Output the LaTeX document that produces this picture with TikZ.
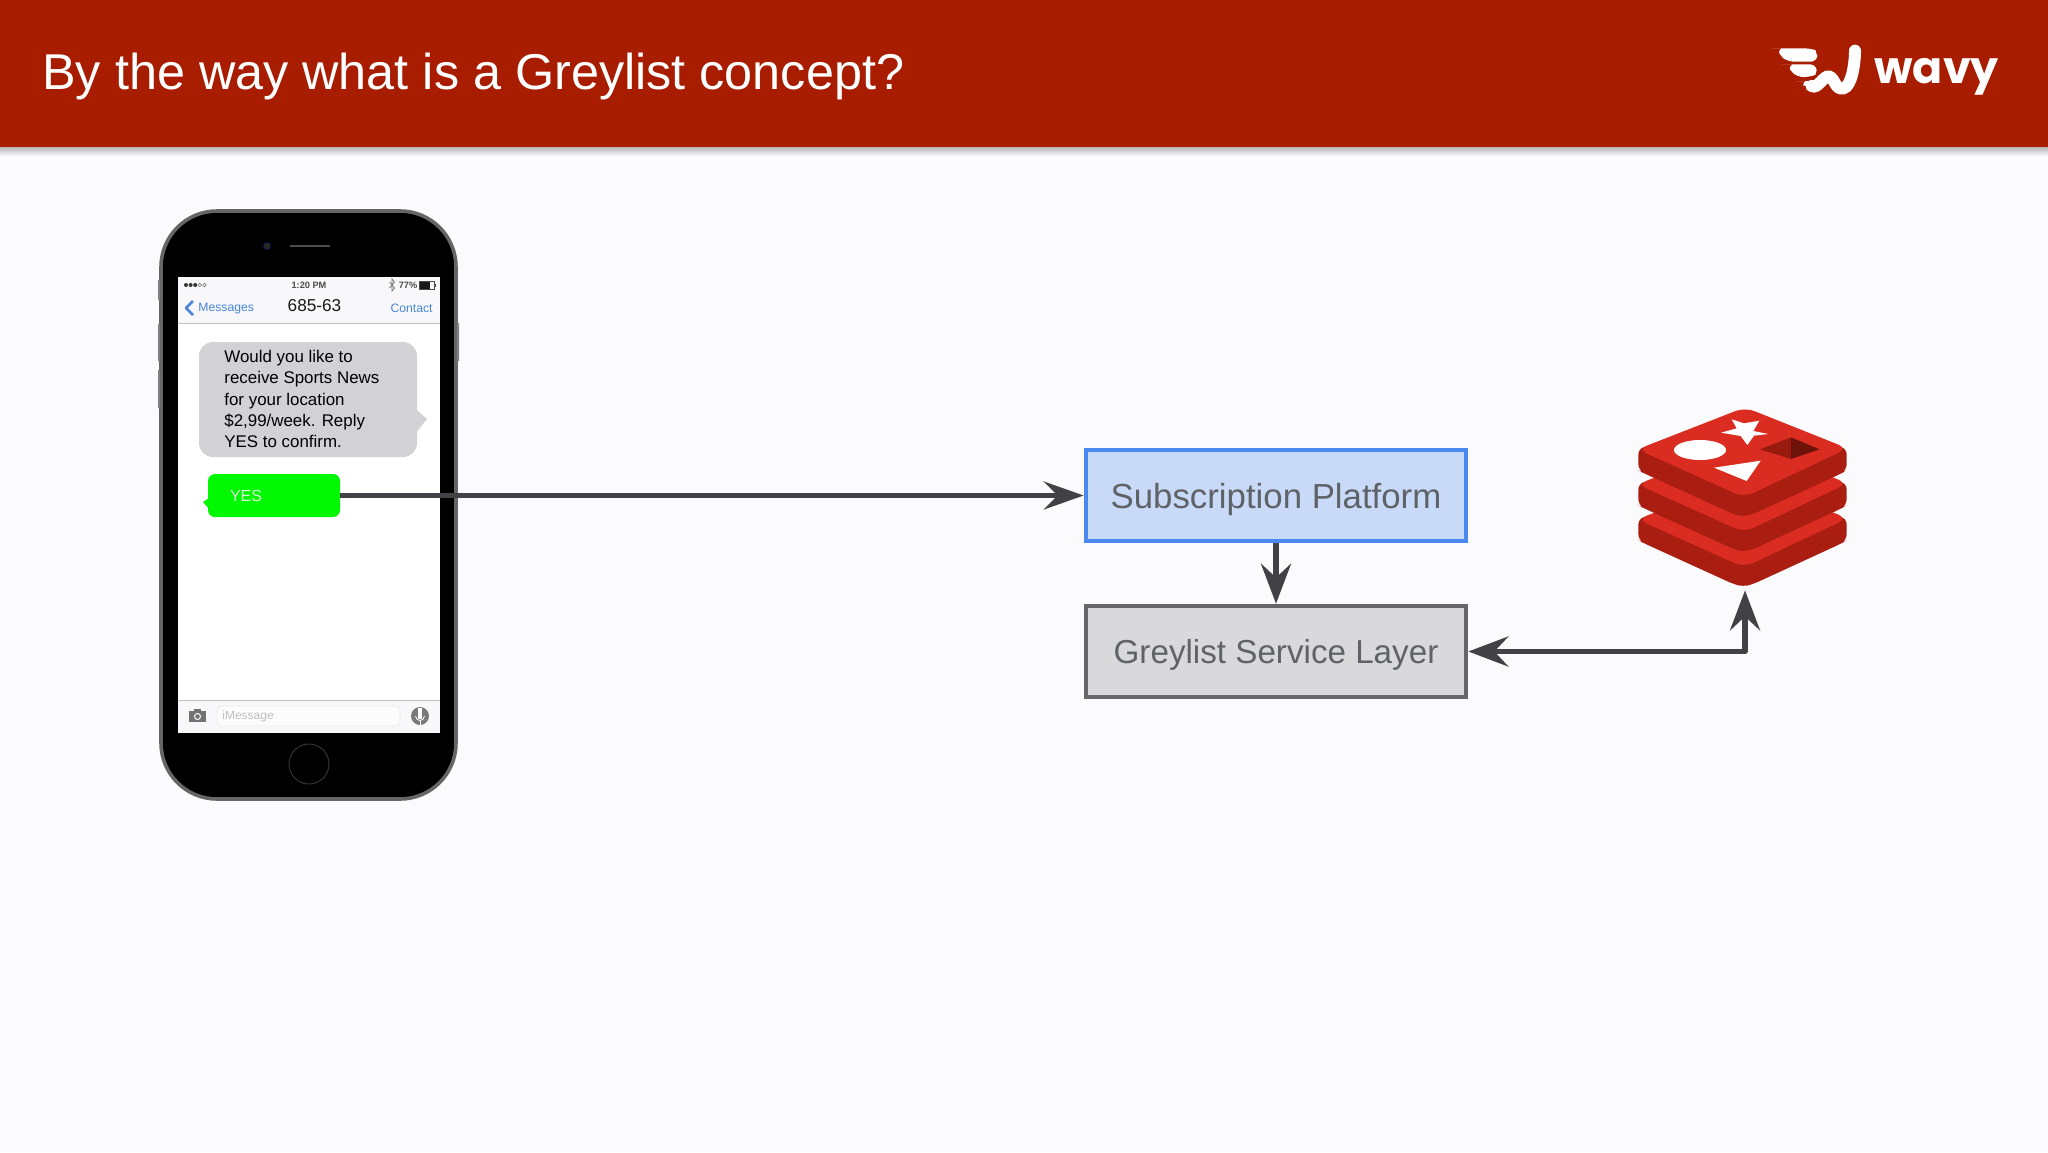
\documentclass[tikz,border=0pt]{standalone}
\usepackage{fontspec}
\setmainfont{Liberation Sans}
\newfontfamily\wavyf{Poppins}
\usetikzlibrary{arrows.meta}
\definecolor{bgc}{HTML}{FBFAFD}
\definecolor{headc}{HTML}{A81C00}
\definecolor{linec}{HTML}{424246}
\definecolor{bluefill}{HTML}{C9DAF8}
\definecolor{blueline}{HTML}{4A89F0}
\definecolor{greyfill}{HTML}{D9D8DB}
\definecolor{greyline}{HTML}{666569}
\definecolor{labelc}{HTML}{5F6368}
\definecolor{iosblue}{HTML}{4A86D8}
\definecolor{bubblec}{HTML}{D2D2D5}
\definecolor{greenc}{HTML}{00F800}
\definecolor{barc}{HTML}{F8F8FA}
\definecolor{rtop}{HTML}{DA2C20}
\definecolor{rside}{HTML}{A91E10}
\tikzset{
  conn/.style={draw=linec,line width=2.8pt,line join=round},
  boxnode/.style={rectangle,line width=2.3pt,minimum width=190pt,minimum height=45.5pt,inner sep=0pt,outer sep=auto,text=labelc,text depth=0pt,font=\fontsize{17.4}{20}\selectfont},
  iostext/.style={inner sep=0pt,font=\fontsize{5.8}{7}\selectfont}
}
\begin{document}
\begin{tikzpicture}[x=0.5pt,y=-0.5pt]
\useasboundingbox (0,0) rectangle (2048,1152);
\fill[bgc] (0,0) rectangle (2048,1152);
% header
\shade[top color=black!28!bgc,bottom color=bgc] (0,147) rectangle (2048,156);
\fill[headc] (0,0) rectangle (2048,147);
\node[anchor=base west,inner sep=0pt,text=white,font=\fontsize{25.17}{28}\selectfont] (title) at (42,89) {By the way what is a Greylist concept?};
% wavy logo
\begin{scope}[shift={(1760,30)},scale=1/3]
  \fill[white,rounded corners=3pt] (52,55) -- (150,55) .. controls (165,60) and (172,80) .. (170,95) -- (85,95) .. controls (70,85) and (58,70) .. cycle;
  \fill[white,rounded corners=3pt] (85,103) -- (168,103) .. controls (170,120) and (165,135) .. (150,141) -- (112,141) .. controls (100,130) and (90,118) .. cycle;
  \fill[white,rounded corners=3pt] (125,153) -- (160,153) -- (150,170) -- (140,178) .. controls (135,170) and (128,162) .. cycle;
  \draw[white,line width=6pt,line cap=round] (155,168) .. controls (175,178) and (190,135) .. (208,140) .. controls (225,145) and (225,180) .. (250,175) .. controls (275,170) and (285,100) .. (285,62);
\end{scope}
\node[anchor=base west,inner sep=0pt,text=white,font=\wavyf\bfseries\fontsize{22.2}{26}\selectfont] (wavy) at (1874,83) {wavy};
% phone body
\draw[fill=black,draw=black!60,line width=1.8pt,rounded corners=28pt] (161,211) rectangle (456,799);
\fill[black!50] (158,280) rectangle (160,300) (158,324) rectangle (160,361) (158,370) rectangle (160,408) (457,323) rectangle (459,361);
\fill[white] (178,277) rectangle (440,733);
\fill[barc] (178,277) rectangle (440,323);
\fill[barc] (178,700) rectangle (440,733);
\draw[black!25,line width=.5pt] (178,323) -- (440,323);
\draw[black!25,line width=.5pt] (178,700) -- (440,700);
\fill[black!85,draw=black!70!blue,line width=.3pt] (267,246) circle (4);
\draw[black!70,line width=.8pt] (290,246) -- (330,246);
\draw[black!80,line width=.5pt] (309,764) circle (20);
% status bar
\foreach \i in {0,1,2}{\fill[black!80] ({186+\i*4.6},285) circle (2);}
\foreach \i in {3,4}{\draw[black!60,line width=.25pt] ({186+\i*4.6},285) circle (1.8);}
\node[iostext,text=black!70,font=\bfseries\fontsize{4.6}{6}\selectfont] (clock) at (309,285) {1:20 PM};
\draw[black!55,line width=.35pt] (389.5,282) -- (394.5,288) -- (392,291) -- (392,279) -- (394.5,282) -- (389.5,288);
\node[iostext,text=black!70,font=\bfseries\fontsize{4.6}{6}\selectfont] (batt) at (408,285) {77\%};
\draw[black!70,line width=.4pt] (419,281) rectangle (434,289);
\fill[black!90] (420,281.5) rectangle (430,288.5);
\fill[black!70] (434.5,283.5) rectangle (436,286.5);
% nav bar
\draw[iosblue,line width=1.3pt,line join=round] (193,301) -- (186,308) -- (193,315);
\node[iostext,anchor=west,text=iosblue,font=\fontsize{6.1}{8}\selectfont] (msgs) at (198,309) {Messages};
\node[iostext,text=black!90,font=\fontsize{8.6}{10}\selectfont] (num) at (314.5,306) {685-63};
\node[iostext,anchor=east,text=iosblue,font=\fontsize{6.1}{8}\selectfont] (contact) at (433,308) {Contact};
% incoming bubble
\fill[bubblec] (410,404) -- (427,419) -- (410,440) -- cycle;
\node[rectangle,fill=bubblec,rounded corners=7pt,minimum width=109pt,minimum height=57.5pt,inner sep=0pt] (bubble) at (308,399.5) {};
\node[anchor=west,inner sep=0pt,align=left,text=black,font=\fontsize{8.45}{10.65}\selectfont] (bubbletext) at (224,399) {Would you like to\\receive Sports News\\for your location\\\$2,99/week. Reply\\YES to confirm.};
% YES bubble
\fill[greenc] (212,496) -- (203,502) -- (212,512) -- cycle;
\node[rectangle,fill=greenc,rounded corners=3.5pt,minimum width=66pt,minimum height=21.5pt,inner xsep=11pt,inner ysep=0pt,text width=44pt,align=left,text=white!85!green,font=\fontsize{8}{10}\selectfont] (yes) at (274,495.5) {YES};
% input bar
\fill[black!55] (189,711) rectangle (206,722);
\fill[black!55] (194,709) rectangle (201,712);
\draw[white,line width=.5pt] (197.5,716.5) circle (3);
\draw[black!8,fill=white!60!barc,line width=.4pt,rounded corners=2pt] (217,706) rectangle (400,726);
\node[iostext,anchor=west,text=black!25,font=\fontsize{6}{8}\selectfont] (imsg) at (222,716) {iMessage};
\fill[black!52] (420,716) circle (9);
\fill[white] (418,708) rectangle (422,719);
\draw[white,line width=.4pt] (415.5,716) .. controls (416,722) and (424,722) .. (424.5,716);
\draw[white,line width=.5pt] (420,721) -- (420,725);
% boxes
\node[boxnode,draw=blueline,fill=bluefill] (sub) at (1276,495.5) {Subscription Platform};
\node[boxnode,draw=greyline,fill=greyfill,font=\fontsize{16.6}{20}\selectfont] (grey) at (1276,651.5) {Greylist Service Layer};
% redis logo
\begin{scope}[shift={(1620,390)},scale=1/3]
  \foreach \o in {210,105,0}{
    \fill[rside,rounded corners=3pt] (55,{175+\o}) -- (55,{240+\o}) -- (68,{248+\o}) -- (340,{372+\o}) -- (370,{380+\o}) -- (400,{372+\o}) -- (665,{250+\o}) -- (680,{240+\o}) -- (680,{175+\o}) -- (375,{100+\o}) -- cycle;
    \fill[rtop,rounded corners=5pt] (52,{178+\o}) -- (375,{52+\o}) -- (683,{175+\o}) -- (372,{322+\o}) -- cycle;
  }
  \fill[white] (335,88) -- (372,100) -- (418,92) -- (400,123) -- (445,132) -- (402,137) -- (382,165) -- (362,138) -- (303,128) -- (350,115) -- cycle;
  \fill[white] (240,180) ellipse (78 and 30);
  \fill[white] (282,233) -- (422,212) -- (380,273) -- cycle;
  \fill[rside!90!black] (420,178) -- (513,142) -- (513,207) -- cycle;
  \fill[rside!65!black] (513,142) -- (598,178) -- (513,207) -- cycle;
\end{scope}
\node[rectangle,inner sep=0pt,minimum width=104pt,minimum height=89pt] (redis) at (1745,497) {};
% connectors
\draw[conn,-{Stealth[length=20pt,width=14pt,inset=7pt]}] (yes.east) -- (sub.west);
\draw[conn,-{Stealth[length=20pt,width=15pt,inset=7pt]}] (sub.south) -- (grey.north);
\draw[conn,{Stealth[length=20pt,width=15pt,inset=7pt]}-{Stealth[length=20pt,width=15pt,inset=7pt]},shorten >=2pt] (grey.east) -| (redis.south);
\end{tikzpicture}
\end{document}
